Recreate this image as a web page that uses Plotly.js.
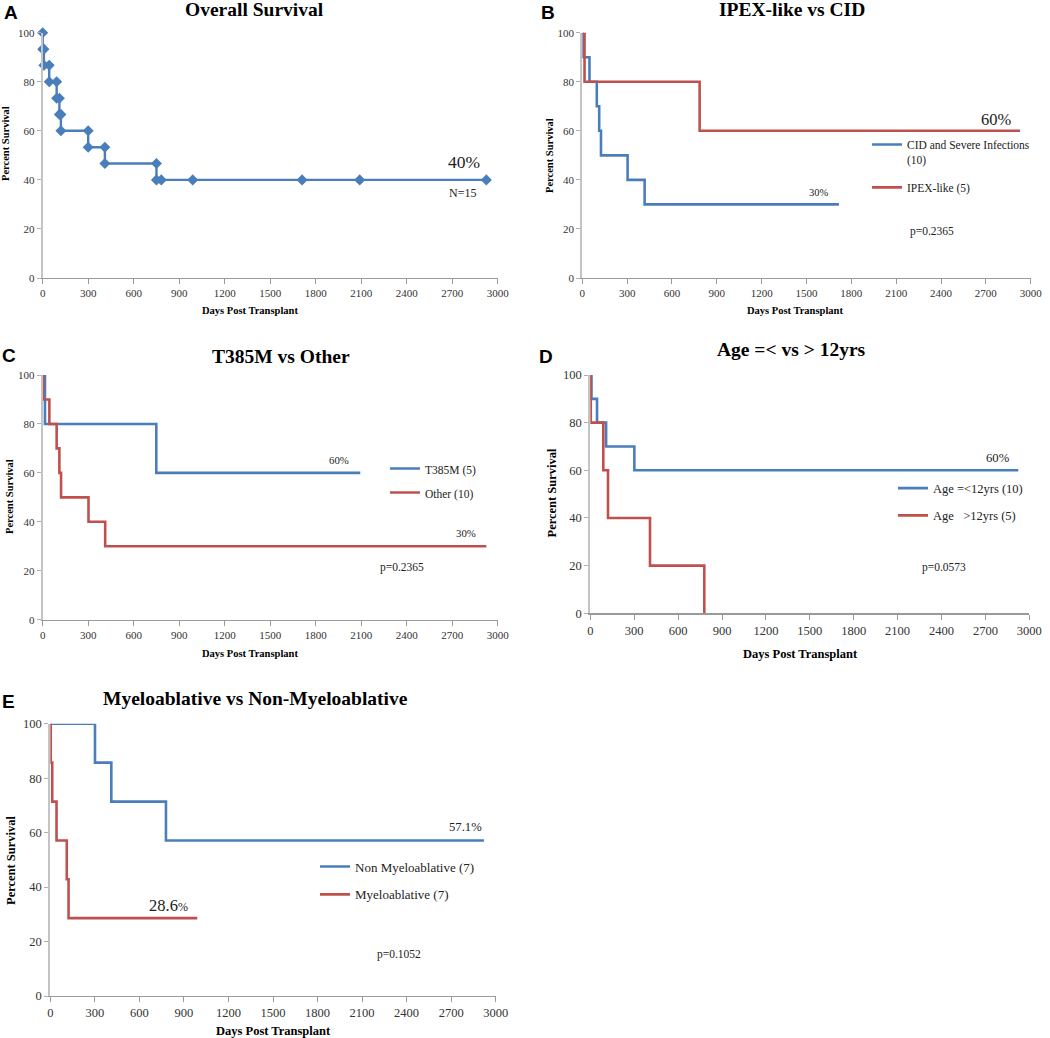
<!DOCTYPE html>
<html>
<head>
<meta charset="utf-8">
<script src="https://cdn.plot.ly/plotly-3.0.1.min.js"></script>
<style>
html,body{margin:0;padding:0;background:#fff;}
#chart{width:1050px;height:1038px;}
</style>
</head>
<body>
<div id="chart"></div>
<script>
// ---------- DATA ----------
// Panel A: Overall Survival (Excel-style step vertices, with markers)
const osDays     = [0, 0, 8, 8, 43, 43, 92, 92, 110, 110, 120, 120, 300, 300, 410, 410, 750, 750, 782, 989, 1710, 2090, 2925];
const osSurvival = [100, 93.3, 93.3, 86.7, 86.7, 80, 80, 73.3, 73.3, 66.7, 66.7, 60, 60, 53.3, 53.3, 46.7, 46.7, 40, 40, 40, 40, 40, 40];

// Panel B: IPEX-like vs CID (event days, survival after event)
const cidDays      = [0, 4, 48, 97, 113, 125, 303, 417, 1717];
const cidSurvival  = [100, 90, 80, 70, 60, 50, 40, 30, 30];
const ipexDays     = [0, 15, 785, 2929];
const ipexSurvival = [100, 80, 60, 60];

// Panel C: T385M vs Other
const t385Days      = [0, 15, 749, 2094];
const t385Survival  = [100, 80, 60, 60];
const otherDays     = [0, 3, 44, 92, 110, 121, 302, 412, 2925];
const otherSurvival = [100, 90, 80, 70, 60, 50, 40, 30, 30];

// Panel D: Age =< vs > 12yrs
const youngDays     = [0, 8, 46, 108, 301, 2925];
const youngSurvival = [100, 90, 80, 70, 60, 60];
const oldDays       = [0, 3, 89, 121, 408, 779];
const oldSurvival   = [100, 80, 60, 40, 20, 0];

// Panel E: Myeloablative vs Non-Myeloablative
const nonMyeloDays     = [0, 301, 411, 779, 2921];
const nonMyeloSurvival = [100, 85.7, 71.4, 57.1, 57.1];
const myeloDays        = [0, 3, 13, 42, 111, 123, 990];
const myeloSurvival    = [100, 85.7, 71.4, 57.1, 42.9, 28.6, 28.6];

const xTicks = [0, 300, 600, 900, 1200, 1500, 1800, 2100, 2400, 2700, 3000];
const yTicks = [0, 20, 40, 60, 80, 100];

const panelTitles = ["Overall Survival", "IPEX-like vs CID", "T385M vs Other", "Age =< vs > 12yrs", "Myeloablative vs Non-Myeloablative"];
const panelLetters = ["A", "B", "C", "D", "E"];

// ---------- LAYOUT HELPERS ----------
const W = 1050, H = 1038;
const BLUE = "#4a7ebb", RED = "#c0504d";
const SERIF = "Liberation Serif, Times New Roman, serif";
const SANS = "Liberation Sans, Arial, sans-serif";
const fx = v => v / W;
const fy = v => 1 - v / H;

// plot areas in pixels: [left, right, top, bottom]
const boxes = [
  [42.7, 497.7, 32.7, 278],
  [582.3, 1030.7, 32.7, 278],
  [42.7, 497.7, 375, 619.7],
  [590.3, 1029.3, 375, 613.3],
  [50.3, 495.7, 723.7, 996]
];
const tickSizes = [11, 11, 11, 12.5, 12.5];

function axes(i) {
  const b = boxes[i];
  const fs = tickSizes[i];
  const xa = {
    domain: [fx(b[0]), fx(b[1])], range: [0, 3000], tickvals: xTicks,
    ticks: "outside", ticklen: 5, tickcolor: "#9a9a9a", tickwidth: 1,
    showline: true, linecolor: "#9a9a9a", linewidth: 1.2,
    showgrid: false, zeroline: false, fixedrange: true,
    tickfont: {family: SERIF, size: fs, color: "#333"},
    anchor: i === 0 ? "y" : "y" + (i + 1)
  };
  const ya = {
    domain: [fy(b[3]), fy(b[2])], range: [0, 100], tickvals: yTicks,
    ticks: "outside", ticklen: 4, tickcolor: "#b0b0b0", tickwidth: 1,
    showline: true, linecolor: "#c4c4c4", linewidth: 2,
    showgrid: false, zeroline: false, fixedrange: true,
    tickfont: {family: SERIF, size: fs, color: "#333"},
    anchor: i === 0 ? "x" : "x" + (i + 1)
  };
  return [xa, ya];
}

function axisRef(i) { return i === 0 ? ["x", "y"] : ["x" + (i + 1), "y" + (i + 1)]; }

function stepTrace(i, days, surv, color, name, legendId) {
  const r = axisRef(i);
  return {
    type: "scatter", mode: "lines", x: days, y: surv, xaxis: r[0], yaxis: r[1],
    line: {color: color, width: 2.6, shape: "hv"}, name: name,
    legend: legendId, legendgroup: name, showlegend: true, cliponaxis: false,
    hoverinfo: "skip"
  };
}

const traces = [
  {
    type: "scatter", mode: "lines+markers", x: osDays, y: osSurvival, xaxis: "x", yaxis: "y",
    line: {color: BLUE, width: 2.4}, marker: {symbol: "diamond", size: 8.5, color: BLUE},
    showlegend: false, cliponaxis: false, hoverinfo: "skip", name: "Overall"
  },
  stepTrace(1, cidDays, cidSurvival, BLUE, "CID and Severe Infections<br>(10)", "legend"),
  stepTrace(1, ipexDays, ipexSurvival, RED, "IPEX-like (5)", "legend"),
  stepTrace(2, t385Days, t385Survival, BLUE, "T385M (5)", "legend2"),
  stepTrace(2, otherDays, otherSurvival, RED, "Other (10)", "legend2"),
  stepTrace(3, youngDays, youngSurvival, BLUE, "Age =<12yrs (10)", "legend3"),
  stepTrace(3, oldDays, oldSurvival, RED, "Age   >12yrs (5)", "legend3"),
  stepTrace(4, nonMyeloDays, nonMyeloSurvival, BLUE, "Non Myeloablative (7)", "legend4"),
  stepTrace(4, myeloDays, myeloSurvival, RED, "Myeloablative (7)", "legend4")
];

function legendAt(xText, yFirst, size, gap) {
  return {
    x: fx(xText - 40), y: fy(yFirst - 14.5), xanchor: "left", yanchor: "top",
    bgcolor: "rgba(0,0,0,0)", borderwidth: 0, itemwidth: 30,
    font: {family: SERIF, size: size, color: "#222"},
    traceorder: "grouped", tracegroupgap: gap, valign: "top",
    itemclick: false, itemdoubleclick: false
  };
}

function txt(text, xpx, ypx, size, opts) {
  return Object.assign({
    text: text, x: fx(xpx), y: fy(ypx), xref: "paper", yref: "paper",
    xanchor: "center", yanchor: "middle", showarrow: false,
    font: {family: SERIF, size: size, color: "#222"}
  }, opts || {});
}

const titlePos = [[254, 10], [792, 10], [281, 356], [791, 350], [255, 698]];
const letterPos = [[10.7, 0], [548, 0], [8.5, 343], [546, 344], [8.5, 689]];
const yTitlePos = [[6, 144], [549, 156], [9, 497], [551.5, 493], [11, 860]];
const xTitlePos = [[250, 310], [795, 310], [250, 653], [800, 654], [273, 1031]];
const axisTitleSizes = [10.5, 10.5, 10.5, 12.5, 12.5];

const annotations = [];
for (let i = 0; i < 5; i++) {
  annotations.push(txt("<b>" + panelTitles[i] + "</b>", titlePos[i][0], titlePos[i][1], 19.5, {font: {family: SERIF, size: 19.5, color: "#000"}}));
  annotations.push(txt("<b>" + panelLetters[i] + "</b>", letterPos[i][0], letterPos[i][1], 19, {yanchor: "top", font: {family: SANS, size: 19, color: "#000"}}));
  annotations.push(txt("<b>Percent Survival</b>", yTitlePos[i][0], yTitlePos[i][1], axisTitleSizes[i], {textangle: -90, font: {family: SERIF, size: axisTitleSizes[i], color: "#000"}}));
  annotations.push(txt("<b>Days Post Transplant</b>", xTitlePos[i][0], xTitlePos[i][1], axisTitleSizes[i], {font: {family: SERIF, size: axisTitleSizes[i], color: "#000"}}));
}
annotations.push(txt("40%", 464, 162, 17.5));
annotations.push(txt("N=15", 462, 193, 12));
annotations.push(txt("60%", 996, 119, 16.5));
annotations.push(txt("30%", 819, 192, 10.5));
annotations.push(txt("p=0.2365", 932, 231, 11.5));
annotations.push(txt("60%", 339, 460, 10.8));
annotations.push(txt("30%", 466, 533, 10.8));
annotations.push(txt("p=0.2365", 402, 567, 11.5));
annotations.push(txt("60%", 998, 458, 12.7));
annotations.push(txt("p=0.0573", 944, 567, 11.5));
annotations.push(txt("57.1%", 465, 827, 12.7));
annotations.push(txt("28.6<span style='font-size:12px'>%</span>", 168, 905, 16.5));
annotations.push(txt("p=0.1052", 399, 954, 11.5));

const layout = {
  width: W, height: H,
  margin: {l: 0, r: 0, t: 0, b: 0},
  paper_bgcolor: "#fff", plot_bgcolor: "rgba(0,0,0,0)",
  showlegend: true,
  annotations: annotations,
  legend: legendAt(907, 145, 11.5, 10),
  legend2: legendAt(425, 469, 11.5, 5),
  legend3: legendAt(933, 488, 12.5, 8),
  legend4: legendAt(355, 866, 13, 8),
  hovermode: false
};
for (let i = 0; i < 5; i++) {
  const a = axes(i);
  layout[i === 0 ? "xaxis" : "xaxis" + (i + 1)] = a[0];
  layout[i === 0 ? "yaxis" : "yaxis" + (i + 1)] = a[1];
}

Plotly.newPlot("chart", traces, layout, {staticPlot: true, displayModeBar: false});
</script>
</body>
</html>
